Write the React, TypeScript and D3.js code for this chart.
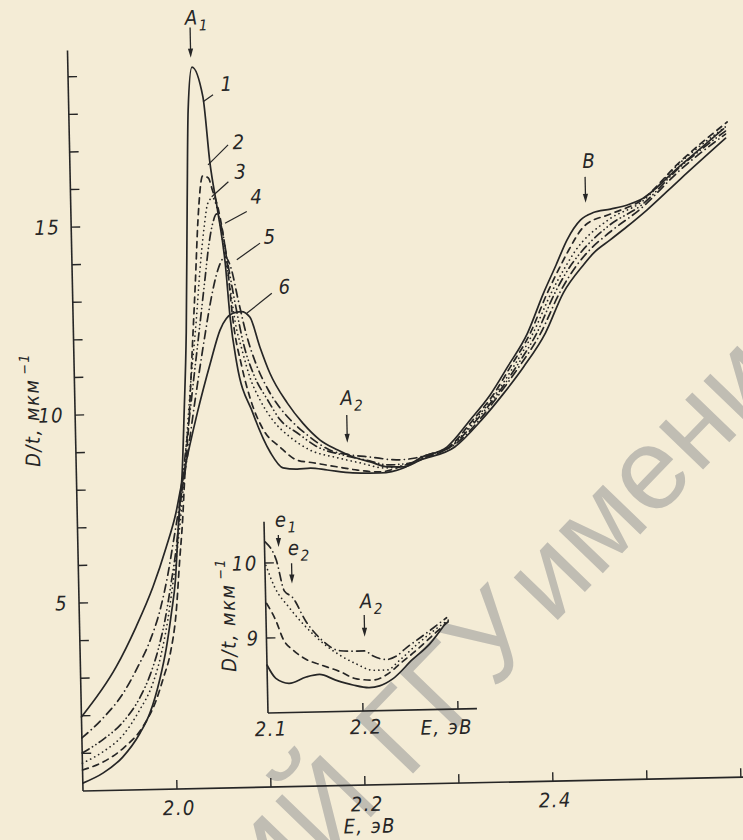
import * as d3 from 'd3'

type Pt = [number, number]

// E (eV) vs D/t (1/µm); curves 1..6
const curve1: Pt[] = [[1.9,0.21],[1.922,0.47],[1.943,0.88],[1.962,1.51],[1.973,2.04],[1.984,2.91],[1.992,3.78],[1.998,4.68],[2.003,5.56],[2.007,6.89],[2.010,7.77],[2.012,8.22],[2.016,10.0],[2.020,12.12],[2.024,15.66],[2.027,18.05],[2.032,19.19],[2.043,18.39],[2.049,16.63],[2.056,15.38],[2.063,13.96],[2.067,12.52],[2.073,11.3],[2.089,9.96],[2.107,8.89],[2.120,8.48],[2.135,8.44],[2.149,8.46],[2.167,8.4],[2.194,8.31],[2.223,8.29],[2.248,8.41],[2.266,8.67],[2.295,8.95],[2.320,9.65],[2.342,10.31],[2.361,11.04],[2.383,11.93],[2.401,12.99],[2.415,13.73],[2.427,14.38],[2.442,14.91],[2.455,15.09],[2.474,15.18],[2.492,15.28],[2.506,15.41],[2.549,16.29],[2.596,17.25]]
const curve2: Pt[] = [[1.9,0.56],[1.922,0.76],[1.944,1.12],[1.965,1.67],[1.980,2.38],[1.988,2.96],[1.996,3.62],[2.003,4.68],[2.008,6.09],[2.012,7.15],[2.015,8.22],[2.021,9.81],[2.026,11.67],[2.031,13.53],[2.035,15.12],[2.041,16.29],[2.047,16.23],[2.051,15.91],[2.057,15.38],[2.065,13.96],[2.070,12.44],[2.078,11.24],[2.087,10.31],[2.100,9.5],[2.117,9.04],[2.135,8.68],[2.152,8.6],[2.177,8.48],[2.199,8.38],[2.223,8.32],[2.248,8.47],[2.271,8.66],[2.297,8.94],[2.323,9.65],[2.345,10.3],[2.364,11.04],[2.386,11.93],[2.405,12.99],[2.420,13.72],[2.427,14.04],[2.447,14.77],[2.474,15.05],[2.506,15.38],[2.549,16.4],[2.600,17.43]]
const curve3: Pt[] = [[1.9,0.74],[1.922,1.03],[1.944,1.47],[1.962,2.12],[1.976,2.78],[1.986,3.57],[1.994,4.5],[2.000,5.43],[2.007,6.62],[2.012,7.68],[2.017,9.01],[2.024,10.87],[2.031,12.46],[2.036,13.79],[2.041,14.85],[2.046,15.57],[2.051,15.7],[2.057,15.24],[2.062,14.31],[2.068,13.24],[2.072,12.44],[2.079,11.64],[2.087,10.89],[2.097,10.3],[2.110,9.76],[2.128,9.3],[2.149,8.94],[2.178,8.72],[2.202,8.57],[2.229,8.42],[2.250,8.49],[2.275,8.74],[2.298,8.94],[2.325,9.65],[2.347,10.3],[2.367,11.03],[2.389,11.93],[2.409,12.98],[2.426,13.72],[2.434,14.03],[2.473,14.92],[2.506,15.33],[2.549,16.37],[2.598,17.3]]
const curve4: Pt[] = [[1.9,1.01],[1.922,1.35],[1.944,1.81],[1.963,2.47],[1.974,3.05],[1.983,3.71],[1.991,4.5],[1.998,5.43],[2.005,6.49],[2.010,7.55],[2.013,8.22],[2.024,10.34],[2.034,12.2],[2.041,13.52],[2.046,14.45],[2.051,15.06],[2.055,15.27],[2.060,14.9],[2.066,13.91],[2.073,12.84],[2.081,11.77],[2.091,10.97],[2.105,10.3],[2.118,9.76],[2.136,9.4],[2.157,9.02],[2.184,8.79],[2.207,8.65],[2.234,8.5],[2.255,8.54],[2.277,8.74],[2.300,8.97],[2.327,9.65],[2.349,10.3],[2.370,11.03],[2.393,11.93],[2.413,12.98],[2.431,13.72],[2.441,14.03],[2.473,14.76],[2.506,15.25],[2.549,16.26],[2.598,17.19]]
const curve5: Pt[] = [[1.9,1.41],[1.923,1.93],[1.945,2.58],[1.961,3.27],[1.975,3.98],[1.986,4.77],[1.995,5.7],[2.002,6.62],[2.009,7.55],[2.016,8.48],[2.028,10.34],[2.039,11.93],[2.047,12.99],[2.055,13.78],[2.063,14.12],[2.069,13.83],[2.076,12.97],[2.084,12.04],[2.094,11.23],[2.106,10.56],[2.118,10.08],[2.129,9.75],[2.149,9.29],[2.170,8.93],[2.192,8.79],[2.213,8.72],[2.242,8.63],[2.261,8.67],[2.280,8.79],[2.301,8.97],[2.330,9.65],[2.351,10.3],[2.373,11.03],[2.397,11.92],[2.418,12.98],[2.437,13.71],[2.448,14.03],[2.473,14.57],[2.506,15.17],[2.549,16.18],[2.598,17.11]]
const curve6: Pt[] = [[1.9,1.97],[1.938,3.28],[1.960,4.33],[1.979,5.39],[1.994,6.44],[2.005,7.34],[2.011,8.03],[2.030,9.99],[2.045,11.31],[2.056,12.18],[2.070,12.62],[2.079,12.66],[2.088,12.51],[2.098,11.71],[2.108,11.01],[2.126,10.2],[2.142,9.66],[2.160,9.2],[2.178,8.93],[2.195,8.73],[2.213,8.59],[2.231,8.45],[2.248,8.44],[2.266,8.61],[2.303,8.94],[2.332,9.64],[2.355,10.3],[2.378,11.03],[2.402,11.92],[2.422,12.98],[2.444,13.71],[2.455,14.02],[2.473,14.36],[2.491,14.7],[2.513,15.14],[2.549,15.94],[2.598,17.0]]

// inset, 2.1..2.3 eV
const insetSolid: Pt[] = [[2.1,8.64],[2.109,8.46],[2.123,8.39],[2.141,8.47],[2.155,8.5],[2.172,8.42],[2.19,8.35],[2.207,8.31],[2.218,8.33],[2.232,8.42],[2.253,8.67],[2.272,8.88],[2.289,9.15]]
const insetDashed: Pt[] = [[2.101,9.46],[2.11,9.24],[2.118,8.97],[2.128,8.83],[2.142,8.7],[2.156,8.63],[2.177,8.53],[2.194,8.43],[2.212,8.41],[2.226,8.48],[2.24,8.62],[2.258,8.8],[2.276,9.0],[2.292,9.17]]
const insetDotted: Pt[] = [[2.101,9.97],[2.11,9.67],[2.124,9.41],[2.143,9.12],[2.16,8.91],[2.177,8.75],[2.194,8.63],[2.212,8.54],[2.226,8.54],[2.24,8.67],[2.258,8.87],[2.275,9.04],[2.292,9.19]]
const insetDashDot: Pt[] = [[2.101,10.28],[2.112,10.04],[2.12,9.62],[2.128,9.54],[2.142,9.21],[2.159,8.95],[2.177,8.81],[2.194,8.8],[2.203,8.8],[2.212,8.73],[2.226,8.68],[2.236,8.72],[2.247,8.83],[2.265,8.99],[2.29,9.22]]

const yTicks = [1, 2, 3, 4, 5, 6, 7, 8, 9, 10, 11, 12, 13, 14, 15, 16, 17, 18, 19]
const yTickLabels = [5, 10, 15]
const xTicks = [2.0, 2.1, 2.2, 2.3, 2.4, 2.5, 2.6]
const xTickLabels = [2.0, 2.2, 2.4]
const insetYTicks = [9, 10]
const insetXTicks = [2.2, 2.3]
const insetXTickLabels = [2.1, 2.2]

// curve numbers with leader lines (E, D)
const curveNames = ['1', '2', '3', '4', '5', '6']
const nameAt: Pt[] = [[2.069, 18.72], [2.0804, 17.17], [2.0816, 16.38], [2.0981, 15.71], [2.1113, 14.64], [2.1262, 13.3]]
const leaderFrom: Pt[] = [[2.0431, 18.26], [2.0469, 16.58], [2.0501, 15.73], [2.0637, 15.02], [2.0754, 14.04], [2.0848, 12.61]]
const leaderTo: Pt[] = [[2.0538, 18.44], [2.0687, 17.1], [2.0682, 16.12], [2.0871, 15.32], [2.1005, 14.47], [2.1119, 13.13]]

// feature arrows: [E, D top, D tip], label start [E, D]
const mainMarks = ['A', 'A', 'B']
const mainMarkSub = ['1', '2', '']
const mainArrows: [number, number, number][] = [[2.0309, 20.24, 19.44], [2.1889, 9.85, 9.11], [2.4477, 16.05, 15.36]]
const mainMarkAt: Pt[] = [[2.0255, 20.32], [2.1824, 10.12], [2.4451, 16.29]]
const insetMarks = ['e', 'e', 'A']
const insetMarkSub = ['1', '2', '2']
const insetArrows: [number, number, number][] = [[2.1148, 10.37, 10.21], [2.1281, 9.99, 9.72], [2.2034, 9.28, 8.99]]
const insetMarkAt: Pt[] = [[2.1115, 10.48], [2.1246, 10.1], [2.1992, 9.37]]

const INK = '#262626'
const PAPER = '#f4ecd6'
const FONT = "'Liberation Sans Narrow', 'DejaVu Sans Condensed', 'Liberation Sans', sans-serif"

const DASH = {
  solid: undefined,
  dashed: '6 5',
  dotted: '0.1 4.5',
  dashDot: '8 4.5 0.1 4.5',
  dashDotDot: '8 4 0.1 4 0.1 4'
}

const mainSeries = [
  { data: curve1, dash: DASH.solid },
  { data: curve2, dash: DASH.dashed },
  { data: curve3, dash: DASH.dotted },
  { data: curve4, dash: DASH.dashDotDot },
  { data: curve5, dash: DASH.dashDot },
  { data: curve6, dash: DASH.solid }
]
const insetSeries = [
  { data: insetSolid, dash: DASH.solid },
  { data: insetDashed, dash: DASH.dashed },
  { data: insetDotted, dash: DASH.dotted },
  { data: insetDashDot, dash: DASH.dashDot }
]

function Arrow({ x, y0, y1 }: { x: number, y0: number, y1: number }) {
  return (
    <g>
      <line x1={x} x2={x} y1={y0} y2={y1 - 6} stroke={INK} strokeWidth={1.3} />
      <path d={`M${x - 2.6},${y1 - 9} L${x},${y1} L${x + 2.6},${y1 - 9} Z`} fill={INK} />
    </g>
  )
}

export default function App() {
  const W = 743
  const H = 840

  const x = d3.scaleLinear().domain([1.9, 2.6]).range([83, 741])
  const y = d3.scaleLinear().domain([0, 19.7]).range([791, 50.3])
  const xi = d3.scaleLinear().domain([2.1, 2.32]).range([269.6, 478.6])
  const yi = d3.scaleLinear().domain([8, 10.55]).range([716.9, 525.65])

  const mainLine = d3.line<Pt>().x(d => x(d[0])).y(d => y(d[1])).curve(d3.curveMonotoneX)
  const insetLine = d3.line<Pt>().x(d => xi(d[0])).y(d => yi(d[1])).curve(d3.curveMonotoneX)

  const txt = { fontFamily: FONT, fontStyle: 'italic', fill: INK, fontSize: 20, letterSpacing: 1.5 } as const

  return (
    <svg width={W} height={H} style={{ position: 'absolute', left: 0, top: 0, display: 'block' }}>
      <rect width={W} height={H} fill={PAPER} />

      {/* library watermark */}
      <g fill="#c0bdb3" fontFamily="'Liberation Sans', Arial, sans-serif" fontSize={116}>
        <text transform="translate(545,637) rotate(-46)" textAnchor="end">РЕПОЗИТОРИЙ ГГУ</text>
        <text transform="translate(548,630) rotate(-46)" dx={6}>имени Ф. Скорины</text>
      </g>

      {/* the scan is turned by ~1.2 degrees */}
      <g transform="rotate(-1.2, 83, 791)">
        {/* main axes */}
        <line x1={x(1.9)} x2={x(1.9)} y1={y(0)} y2={y(19.7)} stroke={INK} strokeWidth={1.6} />
        <line x1={x(1.9)} x2={x(2.62)} y1={y(0)} y2={y(0)} stroke={INK} strokeWidth={1.6} />
        {yTicks.map(t => (
          <line key={t} x1={x(1.9)} x2={x(1.9) + 9} y1={y(t)} y2={y(t)} stroke={INK} strokeWidth={1.4} />
        ))}
        {xTicks.map(t => (
          <line key={t} x1={x(t)} x2={x(t)} y1={y(0)} y2={y(0) - 9} stroke={INK} strokeWidth={1.4} />
        ))}
        {yTickLabels.map(t => (
          <text key={t} x={x(1.9) - 11} y={y(t)} dy="0.35em" textAnchor="end" {...txt}>{t}</text>
        ))}
        {xTickLabels.map(t => (
          <text key={t} x={x(t) + 2} y={y(0) + 19} dy="0.35em" textAnchor="middle" {...txt}>{t.toFixed(1)}</text>
        ))}
        <text x={369} y={832} dy="0.35em" textAnchor="middle" {...txt}>E, эВ</text>
        <text transform="translate(40,409) rotate(-90)" dy="0.35em" textAnchor="middle" {...txt}>
          D/t, мкм<tspan dx={4} dy={-9} fontSize={14}>−1</tspan>
        </text>

        {/* main curves */}
        {mainSeries.map((s, i) => (
          <path key={i} d={mainLine(s.data) ?? ''} fill="none" stroke={INK} strokeWidth={1.7}
            strokeDasharray={s.dash} strokeLinecap="round" strokeLinejoin="round" />
        ))}

        {/* curve numbers */}
        {curveNames.map((n, i) => (
          <g key={n}>
            <line x1={x(leaderFrom[i][0])} y1={y(leaderFrom[i][1])} x2={x(leaderTo[i][0])} y2={y(leaderTo[i][1])}
              stroke={INK} strokeWidth={1.2} />
            <text x={x(nameAt[i][0])} y={y(nameAt[i][1])} dy="0.35em" textAnchor="middle" {...txt}>{n}</text>
          </g>
        ))}

        {/* features A1, A2, B */}
        {mainArrows.map((a, i) => (
          <g key={i}>
            <Arrow x={x(a[0])} y0={y(a[1])} y1={y(a[2])} />
            <text x={x(mainMarkAt[i][0])} y={y(mainMarkAt[i][1])} {...txt}>
              {mainMarks[i]}<tspan dy={6} fontSize={15}>{mainMarkSub[i]}</tspan>
            </text>
          </g>
        ))}

        {/* inset */}
        <line x1={xi(2.1)} x2={xi(2.1)} y1={yi(8)} y2={yi(10.55)} stroke={INK} strokeWidth={1.6} />
        <line x1={xi(2.1)} x2={xi(2.32)} y1={yi(8)} y2={yi(8)} stroke={INK} strokeWidth={1.6} />
        {insetYTicks.map(t => (
          <line key={t} x1={xi(2.1)} x2={xi(2.1) + 9} y1={yi(t)} y2={yi(t)} stroke={INK} strokeWidth={1.4} />
        ))}
        {insetXTicks.map(t => (
          <line key={t} x1={xi(t)} x2={xi(t)} y1={yi(8)} y2={yi(8) - 8} stroke={INK} strokeWidth={1.4} />
        ))}
        {insetYTicks.map(t => (
          <text key={t} x={xi(2.1) - 7} y={yi(t)} dy="0.35em" textAnchor="end" {...txt}>{t}</text>
        ))}
        {insetXTickLabels.map(t => (
          <text key={t} x={xi(t) + 3} y={yi(8) + 16} dy="0.35em" textAnchor="middle" {...txt}>{t.toFixed(1)}</text>
        ))}
        <text x={448} y={yi(8) + 18} dy="0.35em" textAnchor="middle" {...txt}>E, эВ</text>
        <text transform="translate(231.7,618) rotate(-90)" dy="0.35em" textAnchor="middle" {...txt}>
          D/t, мкм<tspan dx={4} dy={-9} fontSize={14}>−1</tspan>
        </text>

        {insetSeries.map((s, i) => (
          <path key={i} d={insetLine(s.data) ?? ''} fill="none" stroke={INK} strokeWidth={1.7}
            strokeDasharray={s.dash} strokeLinecap="round" strokeLinejoin="round" />
        ))}

        {insetArrows.map((a, i) => (
          <g key={i}>
            <Arrow x={xi(a[0])} y0={yi(a[1])} y1={yi(a[2])} />
            <text x={xi(insetMarkAt[i][0])} y={yi(insetMarkAt[i][1])} {...txt}>
              {insetMarks[i]}<tspan dy={6} fontSize={15}>{insetMarkSub[i]}</tspan>
            </text>
          </g>
        ))}
      </g>
    </svg>
  )
}
